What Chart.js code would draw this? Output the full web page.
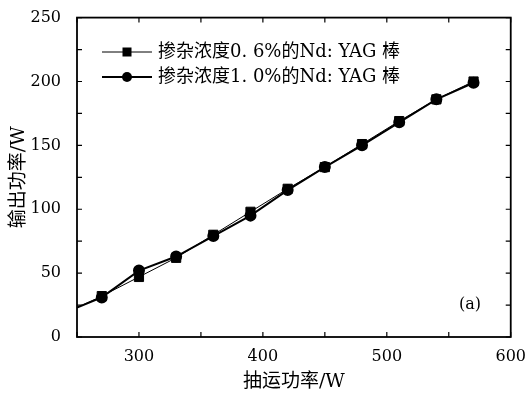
<!DOCTYPE html>
<html><head><meta charset="utf-8">
<script src="https://cdn.jsdelivr.net/npm/chart.js@4.4.1/dist/chart.umd.min.js"></script>
<style>html,body{margin:0;padding:0;background:#fff;}#wrap{width:528px;height:393px;}</style>
</head><body><div id="wrap"><canvas id="c" width="528" height="393"></canvas></div>
<script>
const pumpPower = [250, 270, 300, 330, 360, 390, 420, 450, 480, 510, 540, 570];
const output06 = [23, 32, 47, 62, 80, 98, 116, 133, 151, 169, 186, 200];
const output10 = [23, 31, 52, 63, 79, 95, 115, 133, 150, 168, 186, 199];
const markerRadius06 = [0, 6.5, 6.5, 6.5, 6.5, 6.5, 6.5, 6.5, 6.5, 6.5, 6.5, 6.5];
const markerRadius10 = [0, 5, 5, 5, 5, 5, 5, 5, 5, 5, 5, 5];
const seriesLabels = ['掺杂浓度0. 6%的Nd: YAG 棒', '掺杂浓度1. 0%的Nd: YAG 棒'];
const xTickLabels = [300, 400, 500, 600];
const yTickLabels = [0, 50, 100, 150, 200, 250];

const serif = "'DejaVu Serif','Liberation Serif',serif";
const cjk = "'DejaVu Serif','Noto Sans CJK SC',serif";

const framePlugin = {
  id: 'frame',
  afterDraw(chart) {
    const {ctx, chartArea: a, scales} = chart;
    ctx.save();
    ctx.strokeStyle = '#000';
    ctx.lineWidth = 1.8;
    ctx.strokeRect(a.left, a.top, a.right - a.left, a.bottom - a.top);
    ctx.lineWidth = 1.2;
    const tl = 5;
    for (let v = 250; v <= 600; v += 50) {
      const x = scales.x.getPixelForValue(v);
      ctx.beginPath();
      ctx.moveTo(x, a.bottom); ctx.lineTo(x, a.bottom - tl);
      ctx.moveTo(x, a.top); ctx.lineTo(x, a.top + tl);
      ctx.stroke();
    }
    for (let v = 0; v <= 250; v += 25) {
      const y = scales.y.getPixelForValue(v);
      ctx.beginPath();
      ctx.moveTo(a.left, y); ctx.lineTo(a.left + tl, y);
      ctx.moveTo(a.right, y); ctx.lineTo(a.right - tl, y);
      ctx.stroke();
    }
    // legend
    const rows = [
      {y: 52, w: 1, style: 'rect'},
      {y: 77, w: 2, style: 'circle'}
    ];
    rows.forEach((r, i) => {
      ctx.lineWidth = r.w;
      ctx.beginPath();
      ctx.moveTo(102, r.y); ctx.lineTo(152, r.y);
      ctx.stroke();
      ctx.fillStyle = '#000';
      if (r.style === 'rect') {
        ctx.fillRect(122.5, r.y - 4.5, 9, 9);
      } else {
        ctx.beginPath(); ctx.arc(127, r.y, 5, 0, Math.PI * 2); ctx.fill();
      }
      ctx.font = "18px " + cjk;
      ctx.textBaseline = 'middle';
      ctx.textAlign = 'left';
      ctx.fillText(seriesLabels[i], 158, r.y);
    });
    ctx.font = "16px " + serif;
    ctx.textAlign = 'left';
    ctx.fillText('(a)', 459, 305);
    ctx.restore();
  }
};

new Chart(document.getElementById('c'), {
  type: 'line',
  data: {
    labels: pumpPower,
    datasets: [
      {label: seriesLabels[0], data: pumpPower.map((x, i) => ({x, y: output06[i]})),
       borderColor: '#000', backgroundColor: '#000', borderWidth: 1,
       pointStyle: 'rect', pointRadius: markerRadius06, pointHoverRadius: markerRadius06, tension: 0},
      {label: seriesLabels[1], data: pumpPower.map((x, i) => ({x, y: output10[i]})),
       borderColor: '#000', backgroundColor: '#000', borderWidth: 2,
       pointStyle: 'circle', pointRadius: markerRadius10, pointHoverRadius: markerRadius10, tension: 0}
    ]
  },
  options: {
    responsive: false,
    animation: false,
    devicePixelRatio: 1,
    layout: {padding: {top: 17, right: 15, left: 0, bottom: 0}},
    plugins: {legend: {display: false}, tooltip: {enabled: false}},
    scales: {
      x: {
        type: 'linear', min: 250, max: 600,
        afterFit(s) { s.height = 56; },
        afterBuildTicks(s) { s.ticks = xTickLabels.map(v => ({value: v})); },
        grid: {display: false},
        border: {display: false},
        ticks: {color: '#000', font: {family: serif, size: 16}, padding: 2, maxRotation: 0},
        title: {display: true, text: '抽运功率/W', color: '#000', font: {family: cjk, size: 19}, padding: {top: 0, bottom: 0}}
      },
      y: {
        type: 'linear', min: 0, max: 250,
        afterFit(s) { s.width = 77; },
        afterBuildTicks(s) { s.ticks = yTickLabels.map(v => ({value: v})); },
        grid: {display: false},
        border: {display: false},
        ticks: {color: '#000', font: {family: serif, size: 16}, padding: 8},
        title: {display: true, text: '输出功率/W', color: '#000', font: {family: cjk, size: 19}, padding: {top: 8, bottom: 0}}
      }
    }
  },
  plugins: [framePlugin]
});
</script></body></html>
